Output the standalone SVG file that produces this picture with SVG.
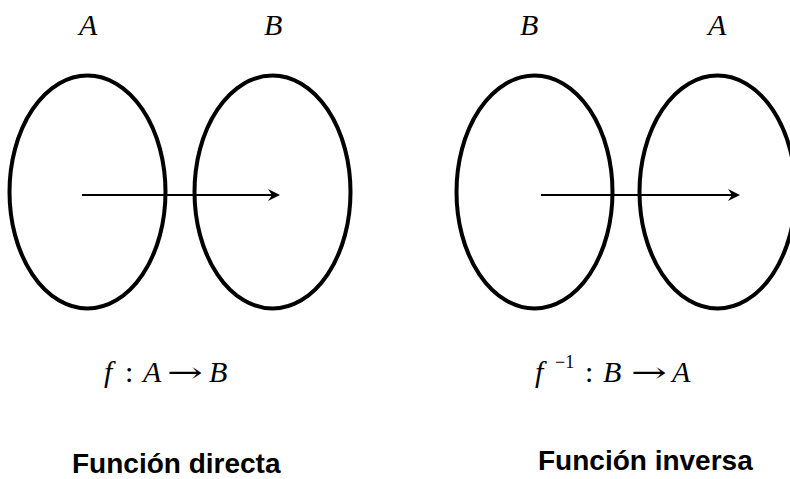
<svg xmlns="http://www.w3.org/2000/svg" width="790" height="479" viewBox="0 0 790 479">
<style>
.set{fill:none;stroke:#000;stroke-width:4}
.lbl{font-family:"Liberation Serif","Times New Roman",serif;font-style:italic;font-size:30px;fill:#000}
.math{font-family:"Liberation Serif","Times New Roman",serif;font-size:30px;fill:#000}
.it{font-style:italic}
.arr{font-family:"DejaVu Serif",serif;font-size:28px}
.cap{font-family:"Liberation Sans",Arial,sans-serif;font-weight:bold;font-size:28px;fill:#000}
.conn{stroke:#000;stroke-width:2;fill:none}
</style>
<defs>
<marker id="ah" viewBox="0 0 12 12" refX="8" refY="6" markerWidth="12" markerHeight="12" markerUnits="userSpaceOnUse" orient="auto">
<path d="M0,0 L12,6 L0,12 L4,6 Z" fill="#000"/>
</marker>
</defs>
<g id="setA1"><ellipse class="set" cx="87.5" cy="192" rx="78" ry="116.5"/><text class="lbl" x="79" y="35">A</text></g>
<g id="setB1"><ellipse class="set" cx="272.5" cy="192" rx="78" ry="116.5"/><text class="lbl" x="264" y="35">B</text></g>
<g id="setB2"><ellipse class="set" cx="534.5" cy="192" rx="78" ry="116.5"/><text class="lbl" x="520" y="35">B</text></g>
<g id="setA2"><ellipse class="set" cx="717.5" cy="192" rx="78" ry="116.5"/><text class="lbl" x="708" y="35">A</text></g>
<g id="connectors">
<line class="conn" x1="82" y1="195" x2="276" y2="195" marker-end="url(#ah)"/>
<line class="conn" x1="541" y1="195" x2="736" y2="195" marker-end="url(#ah)"/>
</g>
<g id="formula1" class="math">
<text x="104" y="382" class="it">f</text>
<text x="125" y="382">:</text>
<text x="143" y="382" class="it">A</text>
<text x="167" y="382" class="arr" textLength="36" lengthAdjust="spacingAndGlyphs">→</text>
<text x="209" y="382" class="it">B</text>
</g>
<g id="formula2" class="math">
<text x="535" y="382" class="it">f</text>
<text x="555" y="368" style="font-size:18px">−1</text>
<text x="585" y="382">:</text>
<text x="603" y="382" class="it">B</text>
<text x="631" y="382" class="arr" textLength="36" lengthAdjust="spacingAndGlyphs">→</text>
<text x="672" y="382" class="it">A</text>
</g>
<g id="caption1"><text class="cap" x="72" y="473">Función directa</text></g>
<g id="caption2"><text class="cap" x="538" y="470">Función inversa</text></g>
</svg>
